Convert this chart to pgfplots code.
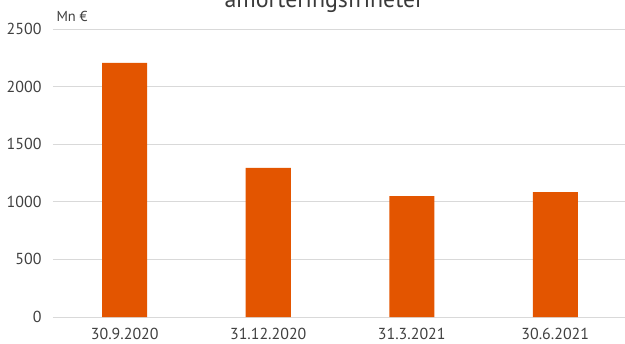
\documentclass[border=0pt]{standalone}
\usepackage{pgfplots}
\pgfplotsset{compat=1.18}
\usepackage{fontspec}
\setmainfont{PT Sans}
\definecolor{barorange}{RGB}{227,85,0}
\definecolor{txt}{RGB}{64,64,64}
\definecolor{gridc}{RGB}{217,217,217}
\begin{document}
\begin{tikzpicture}
\useasboundingbox (-53bp,-27bp) rectangle (572bp,317bp);
\clip (-53bp,-27bp) rectangle (572bp,317bp);
\begin{axis}[
  scale only axis,
  width=574bp, height=288bp,
  at={(0,0)}, anchor=south west,
  xmin=-0.5, xmax=3.5,
  ymin=0, ymax=2500,
  ytick={0,500,1000,1500,2000,2500},
  xtick=data,
  xticklabels={30.9.2020,31.12.2020,31.3.2021,30.6.2021},
  axis line style={draw=none},
  major tick length=0pt,
  ymajorgrids,
  grid style={gridc, line width=0.75bp},
  tick label style={font=\fontsize{16}{19}\selectfont, text=txt},
  /pgf/number format/assume math mode=true,
  /pgf/number format/1000 sep={},
  yticklabel style={xshift=-8bp},
  xticklabel style={anchor=base, yshift=-22.5bp},
  clip=false,
]
\addplot[ybar, bar width=45bp, fill=barorange, draw=none] coordinates {
  (0,2205) (1,1295) (2,1050) (3,1085)
};
\end{axis}
\node[anchor=base west, text=txt, font=\fontsize{14.5}{17}\selectfont] at (0bp,295bp) {Mn €};
\node[anchor=base, text=txt!90!black, font=\fontsize{24}{28}\selectfont] at (271bp,309bp) {amorteringsfriheter};
\end{tikzpicture}
\end{document}
